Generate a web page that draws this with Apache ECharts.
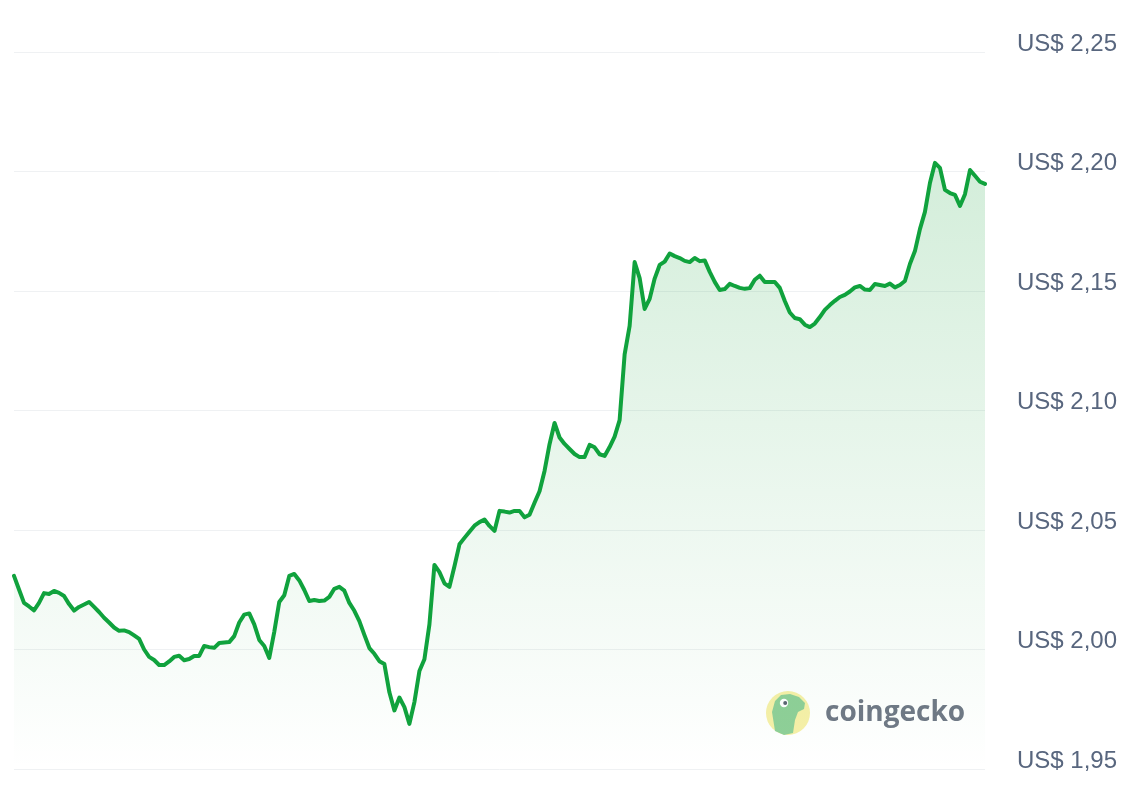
<!DOCTYPE html>
<html>
<head>
<meta charset="utf-8">
<script src="https://cdn.jsdelivr.net/npm/echarts@6/dist/echarts.min.js"></script>
<style>
  html, body { margin: 0; padding: 0; background: #ffffff; }
  #chart { width: 1126px; height: 802px; }
</style>
</head>
<body>
<div id="chart"></div>
<script>
// Price samples, evenly spaced in time (left to right)
var prices = [
  2.0308, 2.0251, 2.0195, 2.0180, 2.0164, 2.0195, 2.0236, 2.0232, 2.0245, 2.0237,
  2.0224, 2.0190, 2.0163, 2.0178, 2.0188, 2.0199, 2.0178, 2.0157, 2.0133, 2.0113,
  2.0092, 2.0078, 2.0080, 2.0073, 2.0059, 2.0044, 2.0000, 1.9969, 1.9956, 1.9935,
  1.9935, 1.9950, 1.9969, 1.9974, 1.9955, 1.9960, 1.9973, 1.9973, 2.0015, 2.0010,
  2.0007, 2.0027, 2.0029, 2.0031, 2.0056, 2.0113, 2.0146, 2.0151, 2.0105, 2.0040,
  2.0015, 1.9965, 2.0074, 2.0199, 2.0227, 2.0308, 2.0316, 2.0289, 2.0249, 2.0203,
  2.0207, 2.0203, 2.0205, 2.0220, 2.0254, 2.0262, 2.0246, 2.0195, 2.0162, 2.0119,
  2.0061, 2.0006, 1.9982, 1.9951, 1.9939, 1.9821, 1.9745, 1.9799, 1.9759, 1.9689,
  1.9780, 1.9910, 1.9959, 2.0105, 2.0354, 2.0324, 2.0277, 2.0262, 2.0348, 2.0440,
  2.0467, 2.0493, 2.0518, 2.0533, 2.0544, 2.0517, 2.0496, 2.0580, 2.0577, 2.0573,
  2.0580, 2.0580, 2.0553, 2.0564, 2.0614, 2.0662, 2.0747, 2.0859, 2.0948, 2.0887,
  2.0860, 2.0839, 2.0818, 2.0805, 2.0805, 2.0856, 2.0846, 2.0817, 2.0810, 2.0847,
  2.0891, 2.0960, 2.1235, 2.1354, 2.1621, 2.1554, 2.1425, 2.1467, 2.1552, 2.1609,
  2.1623, 2.1657, 2.1646, 2.1638, 2.1626, 2.1621, 2.1638, 2.1625, 2.1628, 2.1580,
  2.1538, 2.1504, 2.1508, 2.1530, 2.1521, 2.1513, 2.1509, 2.1512, 2.1547, 2.1564,
  2.1538, 2.1538, 2.1538, 2.1513, 2.1458, 2.1410, 2.1387, 2.1382, 2.1359, 2.1349,
  2.1364, 2.1391, 2.1421, 2.1441, 2.1459, 2.1475, 2.1484, 2.1498, 2.1515, 2.1521,
  2.1506, 2.1504, 2.1529, 2.1525, 2.1521, 2.1531, 2.1515, 2.1525, 2.1542, 2.1613,
  2.1667, 2.1759, 2.1831, 2.1952, 2.2036, 2.2015, 2.1923, 2.1910, 2.1902, 2.1856,
  2.1905, 2.2006, 2.1982, 2.1957, 2.1948
];
var timeIndex = prices.map(function (_, i) { return i; });
var yMin = 1.95, yMax = 2.25, yStep = 0.05;
var currencyPrefix = 'US$ ';
var brandName = 'coingecko';

var chart = echarts.init(document.getElementById('chart'), null, { renderer: 'canvas' });

chart.setOption({
  animation: false,
  backgroundColor: '#ffffff',
  grid: { left: 14, right: 141, top: 52, bottom: 33 },
  xAxis: {
    type: 'category',
    data: timeIndex,
    boundaryGap: false,
    show: false
  },
  yAxis: {
    type: 'value',
    position: 'right',
    min: yMin,
    max: yMax,
    interval: yStep,
    axisLine: { show: false },
    axisTick: { show: false },
    splitLine: { lineStyle: { color: '#eff1f3', width: 1 } },
    axisLabel: {
      margin: 32,
      color: '#58667e',
      fontSize: 24,
      fontFamily: 'Liberation Sans, Arial, Helvetica, sans-serif',
      verticalAlign: 'bottom',
      lineHeight: 16,
      formatter: function (v) {
        return currencyPrefix + v.toFixed(2).replace('.', ',');
      }
    }
  },
  series: [{
    type: 'line',
    data: prices,
    showSymbol: false,
    smooth: false,
    lineStyle: { color: '#10a23d', width: 4, join: 'round', cap: 'round' },
    areaStyle: {
      origin: 'start',
      color: new echarts.graphic.LinearGradient(0, 0, 0, 1, [
        { offset: 0, color: 'rgba(30,165,65,0.28)' },
        { offset: 1, color: 'rgba(30,165,65,0.0)' }
      ])
    }
  }],
  graphic: [
    { type: 'circle', silent: true, shape: { cx: 788, cy: 713, r: 22 }, style: { fill: '#f7f0a8' } },
    { type: 'polygon', silent: true, shape: { points: [[775, 731], [772, 712], [775, 701], [781, 695], [790, 694], [799, 697], [805, 703], [804, 709], [798, 712], [795, 720], [793, 733], [784, 735]] }, style: { fill: '#8fcf98' } },
    { type: 'circle', silent: true, shape: { cx: 784, cy: 703, r: 4.2 }, style: { fill: '#ffffff' } },
    { type: 'circle', silent: true, shape: { cx: 785.2, cy: 703, r: 2 }, style: { fill: '#5b6472' } },
    { type: 'text', silent: true, x: 825, y: 713, style: { text: brandName, fill: '#707886', font: 'bold 28px "Open Sans", "Noto Sans", sans-serif', textVerticalAlign: 'middle', textAlign: 'left' } }
  ]
});
</script>
</body>
</html>
